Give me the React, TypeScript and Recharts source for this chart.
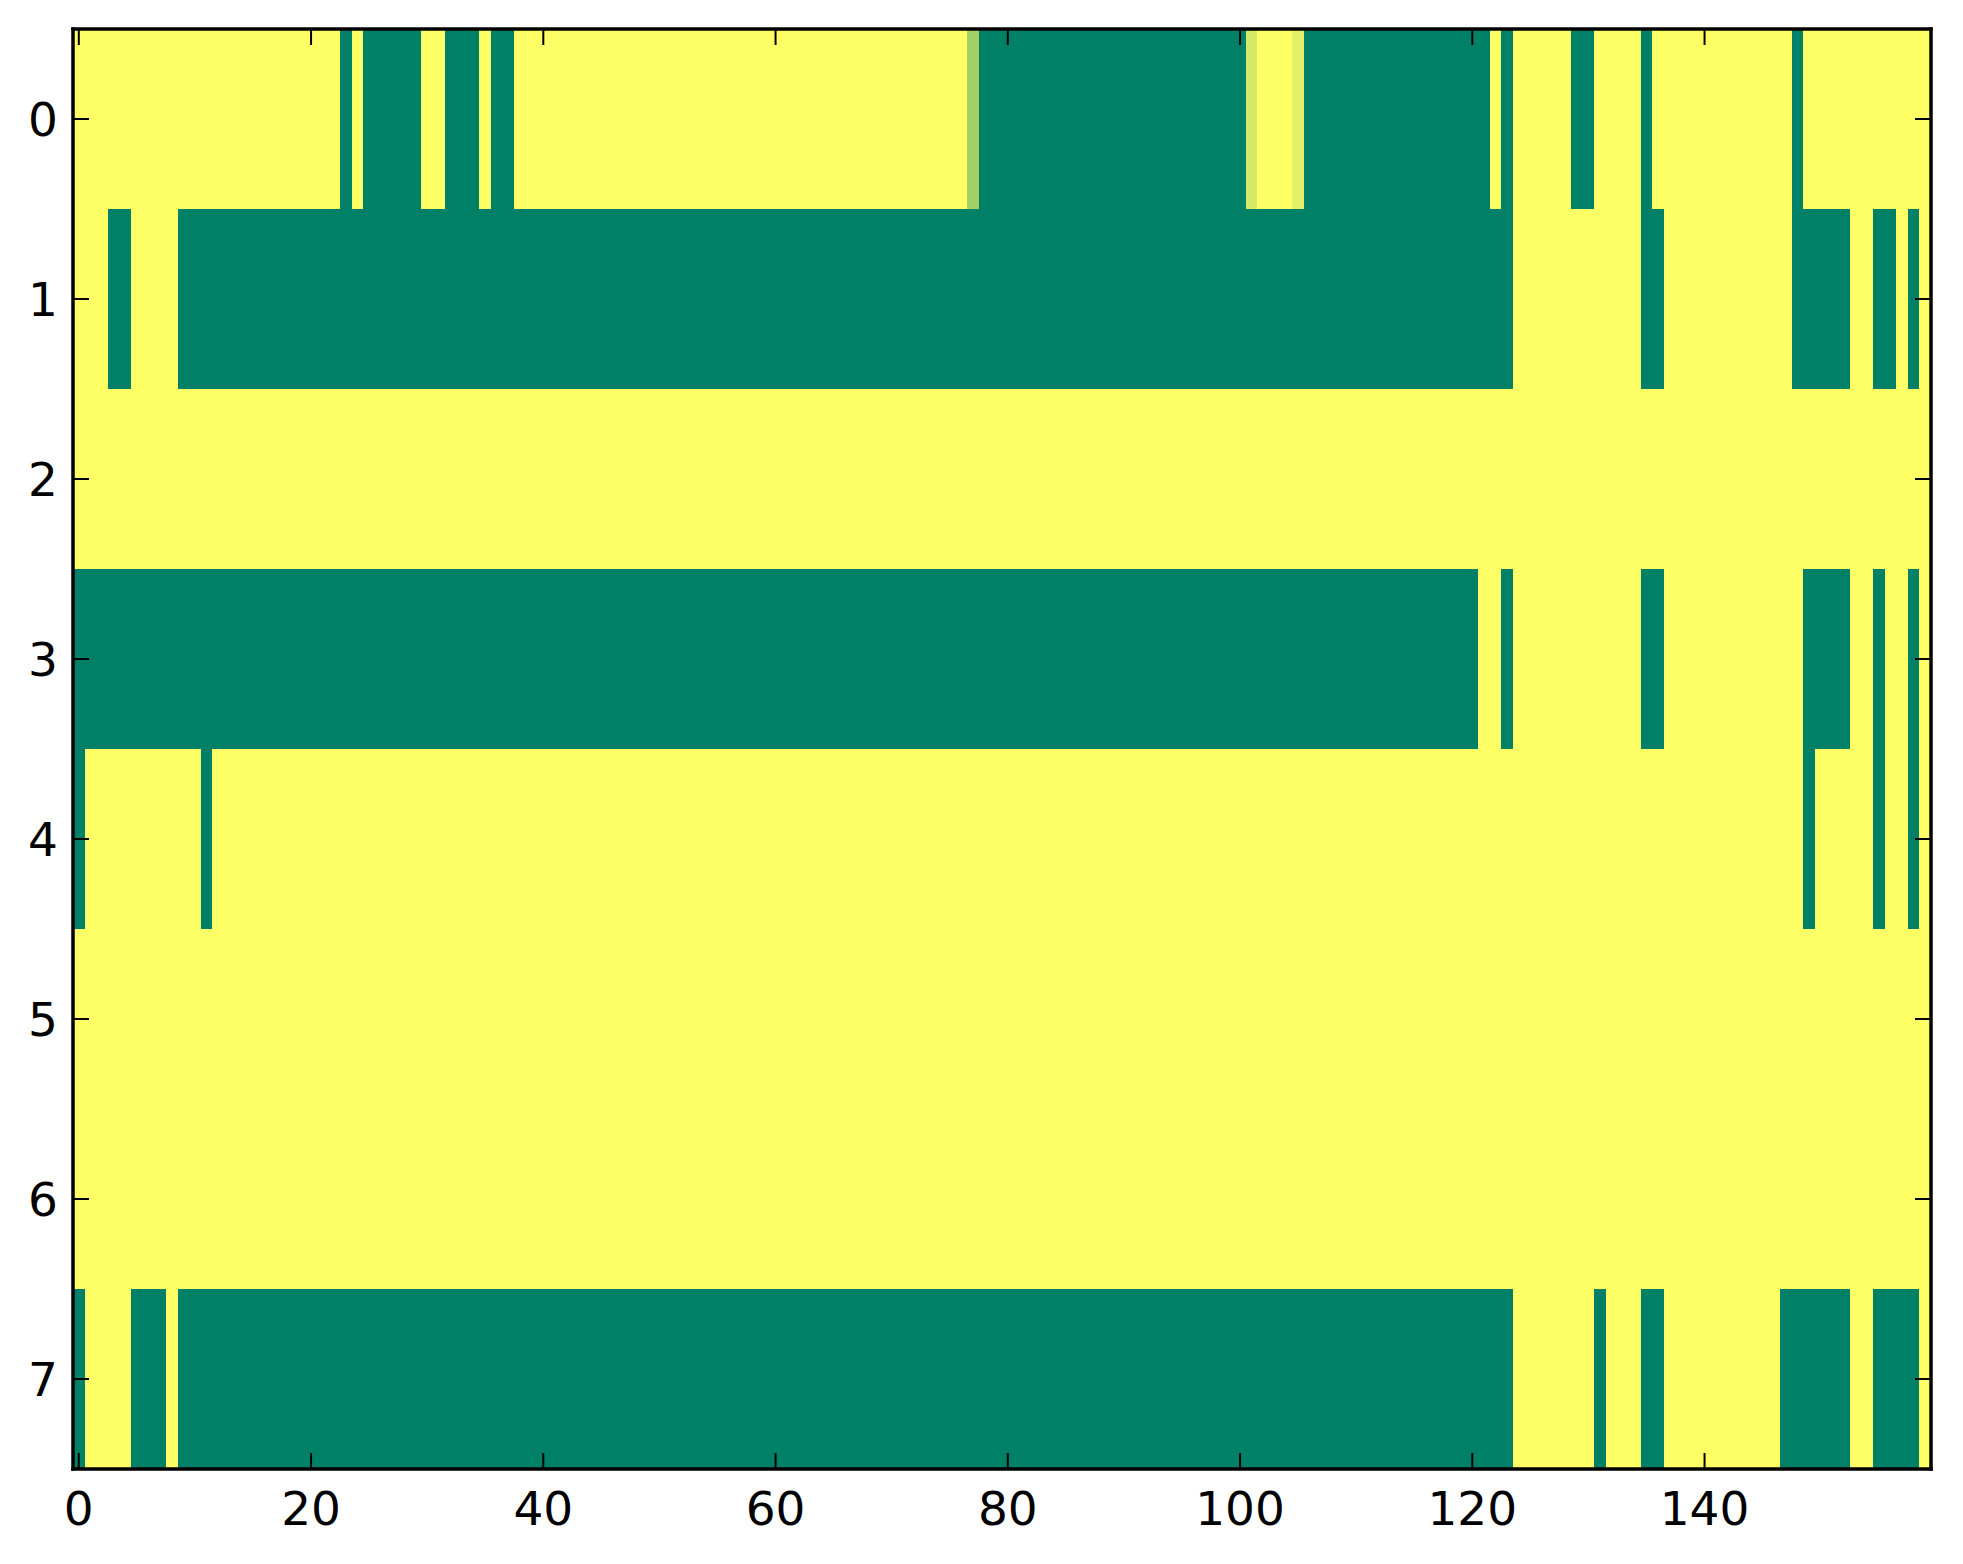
import { ScatterChart, Scatter, XAxis, YAxis, ReferenceArea } from "recharts";

// heatmap of 8 rows x 160 columns, values 0..1 drawn with the "summer" colormap
const columnCount = 160;
const rowIds = [0, 1, 2, 3, 4, 5, 6, 7];
const xTicks = [0, 20, 40, 60, 80, 100, 120, 140];

// runs of low (0) cells per row, [firstCol, lastCol] inclusive; every other cell is 1
const row0Low = [[23, 23], [25, 29], [32, 34], [36, 37], [78, 100], [106, 121], [123, 123], [129, 130], [135, 135], [148, 148]];
const row1Low = [[3, 4], [9, 123], [135, 136], [148, 152], [155, 156], [158, 158]];
const row2Low: number[][] = [];
const row3Low = [[0, 120], [123, 123], [135, 136], [149, 152], [155, 155], [158, 158]];
const row4Low = [[0, 0], [11, 11], [149, 149], [155, 155], [158, 158]];
const row5Low: number[][] = [];
const row6Low: number[][] = [];
const row7Low = [[0, 0], [5, 7], [9, 123], [131, 131], [135, 136], [147, 152], [155, 158]];

// cells in between: [row, col, value]
const midCells = [[0, 77, 0.64], [0, 101, 0.83], [0, 105, 0.89]];

const lowRuns = [row0Low, row1Low, row2Low, row3Low, row4Low, row5Low, row6Low, row7Low];

const grid = rowIds.map(() => new Array(columnCount).fill(1));
lowRuns.forEach((runs, r) =>
  runs.forEach(([a, b]) => {
    for (let c = a; c <= b; c++) grid[r][c] = 0;
  })
);
midCells.forEach(([r, c, v]) => (grid[r][c] = v));

// merge equal neighbours so each run is one rectangle
const areas: { row: number; from: number; to: number; value: number }[] = [];
grid.forEach((cells, r) => {
  let start = 0;
  for (let c = 1; c <= columnCount; c++) {
    if (c === columnCount || cells[c] !== cells[start]) {
      areas.push({ row: r, from: start, to: c - 1, value: cells[start] });
      start = c;
    }
  }
});

// run centres, so the axes have data behind them
const centres = areas.map((a) => ({ x: (a.from + a.to) / 2, y: a.row }));

const summer = (v: number) =>
  `rgb(${Math.round(255 * v)},${Math.round(255 * (0.5 + 0.5 * v))},102)`;

const FONT = "'DejaVu Sans', sans-serif";
const TICK_LEN = 16;
const frame = { stroke: "#000", strokeWidth: 3.5, strokeLinecap: "square" as const };

const BottomTick = ({ x, y, payload }: any) => (
  <g>
    <line x1={x} y1={y} x2={x} y2={y - TICK_LEN} stroke="#000" strokeWidth={2} />
    <text x={x} y={y + 56} textAnchor="middle" fontSize={47} fontFamily={FONT} fill="#000">
      {payload.value}
    </text>
  </g>
);

const TopTick = ({ x, y }: any) => (
  <line x1={x} y1={y} x2={x} y2={y + TICK_LEN} stroke="#000" strokeWidth={2} />
);

const LeftTick = ({ x, y, payload }: any) => (
  <g>
    <line x1={x} y1={y} x2={x + TICK_LEN} y2={y} stroke="#000" strokeWidth={2} />
    <text x={x - 15} y={y + 17} textAnchor="end" fontSize={47} fontFamily={FONT} fill="#000">
      {payload.value}
    </text>
  </g>
);

const RightTick = ({ x, y }: any) => (
  <line x1={x} y1={y} x2={x - TICK_LEN} y2={y} stroke="#000" strokeWidth={2} />
);

export default function App() {
  return (
    <div style={{ position: "absolute", left: 0, top: 0, background: "#fff" }}>
      <ScatterChart width={1963} height={1564} margin={{ top: 0, right: 0, bottom: 0, left: 0 }}>
        <XAxis
          xAxisId="x"
          dataKey="x"
          type="number"
          orientation="bottom"
          domain={[-0.5, columnCount - 0.5]}
          allowDataOverflow
          ticks={xTicks}
          interval={0}
          height={95}
          tickSize={0}
          tickMargin={0}
          tickLine={false}
          axisLine={frame}
          tick={(p: any) => <BottomTick {...p} />}
        />
        <XAxis
          xAxisId="xt"
          dataKey="x"
          type="number"
          orientation="top"
          domain={[-0.5, columnCount - 0.5]}
          allowDataOverflow
          ticks={xTicks}
          interval={0}
          height={29}
          tickSize={0}
          tickMargin={0}
          tickLine={false}
          axisLine={frame}
          tick={(p: any) => <TopTick {...p} />}
        />
        <YAxis
          yAxisId="y"
          dataKey="y"
          type="number"
          orientation="left"
          domain={[-0.5, rowIds.length - 0.5]}
          allowDataOverflow
          reversed
          ticks={rowIds}
          interval={0}
          width={73}
          tickSize={0}
          tickMargin={0}
          tickLine={false}
          axisLine={frame}
          tick={(p: any) => <LeftTick {...p} />}
        />
        <YAxis
          yAxisId="yr"
          dataKey="y"
          type="number"
          orientation="right"
          domain={[-0.5, rowIds.length - 0.5]}
          allowDataOverflow
          reversed
          ticks={rowIds}
          interval={0}
          width={32}
          tickSize={0}
          tickMargin={0}
          tickLine={false}
          axisLine={frame}
          tick={(p: any) => <RightTick {...p} />}
        />
        <Scatter
          xAxisId="x"
          yAxisId="y"
          data={centres}
          isAnimationActive={false}
          shape={() => <g />}
        />
        <Scatter
          xAxisId="xt"
          yAxisId="yr"
          data={centres}
          isAnimationActive={false}
          shape={() => <g />}
        />
        {areas.map((a, i) => (
          <ReferenceArea
            key={i}
            xAxisId="x"
            yAxisId="y"
            x1={a.from - 0.5}
            x2={a.to + 0.5}
            y1={a.row - 0.5}
            y2={a.row + 0.5}
            fill={summer(a.value)}
            fillOpacity={1}
            stroke="none"
            ifOverflow="visible"
            shapeRendering="crispEdges"
          />
        ))}
      </ScatterChart>
    </div>
  );
}
